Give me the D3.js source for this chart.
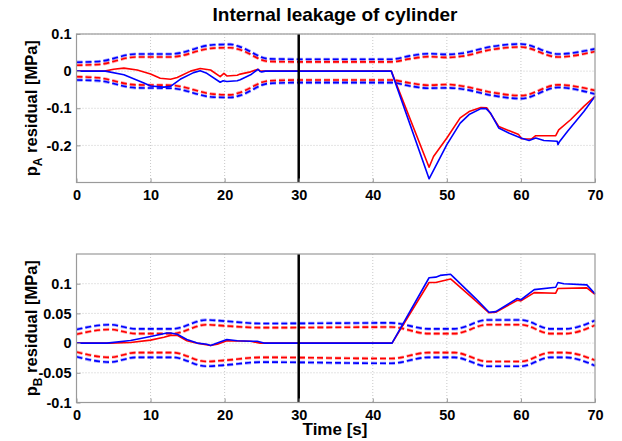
<!DOCTYPE html>
<html>
<head>
<meta charset="utf-8">
<script src="https://cdn.jsdelivr.net/npm/d3@7"></script>
<style>
  html, body { margin: 0; padding: 0; background: #fff; }
  svg { display: block; font-family: "Liberation Sans", Arial, sans-serif; }
</style>
</head>
<body>
<div id="chart"></div>
<script>
// Internal leakage of cylinder - residus pA / pB avec seuils

const titleText = 'Internal leakage of cylinder';
const timeTicks = [0, 10, 20, 30, 40, 50, 60, 70];
const faultTime = 30;

// --- panneau A ---
const yTicksA = [0.1, 0, -0.1, -0.2];
const bandTimeA = [0, 3, 8, 12.7, 18.5, 20.8, 22, 26, 30, 42.5, 45, 47.5, 50, 52, 56, 60, 65, 70];
const upperBlueA = [0.024, 0.026, 0.046, 0.046, 0.071, 0.072, 0.066, 0.033, 0.032, 0.032, 0.041, 0.047, 0.045, 0.048, 0.066, 0.073, 0.046, 0.060];
const upperRedA = [0.016, 0.018, 0.038, 0.038, 0.062, 0.063, 0.058, 0.026, 0.025, 0.025, 0.033, 0.039, 0.037, 0.040, 0.058, 0.065, 0.038, 0.053];
const lowerRedA = [-0.015, -0.018, -0.037, -0.038, -0.062, -0.064, -0.058, -0.026, -0.024, -0.024, -0.032, -0.038, -0.036, -0.040, -0.057, -0.066, -0.037, -0.052];
const lowerBlueA = [-0.024, -0.026, -0.045, -0.046, -0.070, -0.071, -0.066, -0.033, -0.031, -0.031, -0.040, -0.046, -0.045, -0.048, -0.065, -0.074, -0.044, -0.062];

const resTimeRedA = [0, 3.8, 5, 6.4, 8.2, 10, 11.3, 12.7, 13.6, 15.4, 16.7, 18.1, 19.4, 19.9, 20.3, 21.7, 22.1, 23.5, 24.5, 24.8, 42.5, 47.6, 48.2, 50, 51.8, 53, 54.6, 55.4, 57, 58.6, 59.7, 60.1, 61.4, 62, 64.7, 65.1, 66.7, 68.5, 70];
const resRedA = [0, 0, 0.005, 0.008, 0.003, -0.008, -0.019, -0.022, -0.017, 0, 0.007, 0.003, -0.015, -0.006, -0.013, -0.011, -0.008, -0.002, 0.005, 0, 0, -0.259, -0.23, -0.18, -0.126, -0.109, -0.098, -0.099, -0.149, -0.162, -0.171, -0.182, -0.183, -0.174, -0.174, -0.158, -0.131, -0.095, -0.068];
const resTimeBlueA = [0, 3.9, 6.4, 9.1, 10, 11.8, 12.7, 14, 15.8, 16.7, 17.6, 19.4, 19.8, 20.3, 21.7, 22.1, 23.5, 24.5, 24.8, 25, 25.5, 42.5, 47.6, 50, 51.8, 53, 54.6, 55.3, 55.9, 57, 58.6, 60, 61.1, 62, 63.1, 64.9, 65, 65.2, 66.3, 68.5, 70];
const resBlueA = [0, 0, -0.01, -0.032, -0.04, -0.043, -0.041, -0.022, -0.004, 0.001, -0.006, -0.03, -0.026, -0.028, -0.026, -0.023, -0.01, 0.005, -0.001, -0.002, 0, 0, -0.29, -0.198, -0.14, -0.117, -0.101, -0.101, -0.113, -0.153, -0.169, -0.18, -0.187, -0.18, -0.187, -0.189, -0.198, -0.19, -0.162, -0.109, -0.068];

// --- panneau B ---
const yTicksB = [0.1, 0.05, 0, -0.05, -0.1];
const bandTimeB = [0, 4.5, 8, 13, 17.5, 20, 25, 42.5, 47.5, 51, 55.5, 60, 64, 66, 70];
const upperBlueB = [0.023, 0.031, 0.024, 0.024, 0.039, 0.037, 0.033, 0.034, 0.024, 0.024, 0.039, 0.039, 0.024, 0.024, 0.038];
const upperRedB = [0.015, 0.023, 0.016, 0.016, 0.031, 0.029, 0.026, 0.027, 0.016, 0.016, 0.031, 0.031, 0.016, 0.016, 0.030];
const lowerRedB = [-0.015, -0.024, -0.016, -0.016, -0.031, -0.029, -0.024, -0.026, -0.016, -0.016, -0.031, -0.031, -0.016, -0.016, -0.029];
const lowerBlueB = [-0.023, -0.032, -0.024, -0.024, -0.039, -0.037, -0.032, -0.034, -0.024, -0.024, -0.039, -0.039, -0.024, -0.024, -0.038];

const resTimeRedB = [0, 4.5, 7.3, 10, 11.8, 12.7, 13.6, 14.9, 16.3, 18.1, 19, 20.3, 23.5, 24.8, 42.6, 47.6, 48.5, 50.5, 50.9, 53.9, 55.7, 56.6, 59.5, 60, 61.8, 64.7, 65, 68.9, 70];
const resRedB = [0, 0, 0.001, 0.005, 0.010, 0.013, 0.013, 0.004, 0, -0.004, -0.002, 0.004, 0.003, 0, 0, 0.102, 0.102, 0.108, 0.104, 0.071, 0.051, 0.052, 0.072, 0.071, 0.085, 0.084, 0.092, 0.093, 0.082];
const resTimeBlueB = [0, 4.1, 7.3, 10, 12.2, 12.7, 13.6, 14.9, 16.3, 17.6, 18.1, 19, 20.3, 21.7, 23.5, 24.4, 25.3, 42.6, 47.6, 48.5, 49.1, 50.5, 50.9, 53.9, 55.7, 56.6, 59.5, 60, 61.8, 64.7, 65, 65.8, 68.9, 70];
const resBlueB = [0, 0, 0.0045, 0.011, 0.017, 0.017, 0.015, 0.006, 0, -0.002, -0.004, 0, 0.006, 0.004, 0.003, 0.003, 0, 0, 0.110, 0.111, 0.114, 0.116, 0.111, 0.075, 0.052, 0.053, 0.075, 0.073, 0.090, 0.094, 0.102, 0.100, 0.098, 0.083];

const RED = '#ff0000';
const BLUE = '#0000ff';

const W = 622, H = 441;
const svg = d3.select('#chart').append('svg')
    .attr('width', W)
    .attr('height', H);

const x = d3.scaleLinear().domain([0, 70]).range([76.5, 595]);

// Titre
svg.append('text')
    .attr('x', 335)
    .attr('y', 21)
    .attr('text-anchor', 'middle')
    .style('font-size', '19px')
    .style('font-weight', '700')
    .text(titleText);

function zip(ts, vs) {
    return ts.map((t, i) => [t, vs[i]]);
}

function drawPanel(opts) {
    const y = d3.scaleLinear().domain(opts.domain).range([opts.bottom, opts.top]);
    const g = svg.append('g');

    // grille
    g.append('g').selectAll('line.vx')
        .data(timeTicks.slice(1, -1))
        .join('line')
        .attr('x1', d => x(d)).attr('x2', d => x(d))
        .attr('y1', opts.top).attr('y2', opts.bottom)
        .attr('stroke', '#c8c8c8').attr('stroke-width', 1)
        .attr('stroke-dasharray', '1,2');
    g.append('g').selectAll('line.hy')
        .data(opts.yTicks)
        .join('line')
        .attr('x1', x(0)).attr('x2', x(70))
        .attr('y1', d => y(d)).attr('y2', d => y(d))
        .attr('stroke', '#c8c8c8').attr('stroke-width', 1)
        .attr('stroke-dasharray', '1,2');

    // seuils (pointillés)
    const band = d3.line().x(d => x(d[0])).y(d => y(d[1])).curve(d3.curveMonotoneX);
    const bands = [
        [opts.upperRed, RED], [opts.lowerRed, RED],
        [opts.upperBlue, BLUE], [opts.lowerBlue, BLUE]
    ];
    bands.forEach(([vals, col]) => {
        g.append('path')
            .datum(zip(opts.bandTime, vals))
            .attr('fill', 'none')
            .attr('stroke', col)
            .attr('stroke-opacity', 0.35)
            .attr('stroke-width', 3.2)
            .attr('stroke-dasharray', '6,3')
            .attr('d', band);
        g.append('path')
            .datum(zip(opts.bandTime, vals))
            .attr('fill', 'none')
            .attr('stroke', col)
            .attr('stroke-width', 1.6)
            .attr('stroke-dasharray', '6,3')
            .attr('d', band);
    });

    // residus
    const line = d3.line().x(d => x(d[0])).y(d => y(d[1]));
    g.append('path')
        .datum(zip(opts.resTimeRed, opts.resRed))
        .attr('fill', 'none').attr('stroke', RED).attr('stroke-width', 1.6)
        .attr('stroke-linejoin', 'round')
        .attr('d', line);
    g.append('path')
        .datum(zip(opts.resTimeBlue, opts.resBlue))
        .attr('fill', 'none').attr('stroke', BLUE).attr('stroke-width', 1.6)
        .attr('stroke-linejoin', 'round')
        .attr('d', line);

    // ligne verticale du défaut
    g.append('line')
        .attr('x1', x(faultTime)).attr('x2', x(faultTime))
        .attr('y1', opts.top).attr('y2', opts.bottom)
        .attr('stroke', '#000').attr('stroke-width', 2.5);

    // cadre
    g.append('rect')
        .attr('x', x(0)).attr('y', opts.top)
        .attr('width', x(70) - x(0)).attr('height', opts.bottom - opts.top)
        .attr('fill', 'none').attr('stroke', '#9a9a9a').attr('stroke-width', 1.2);

    // axes
    const xAxis = g.append('g')
        .attr('transform', `translate(0,${opts.bottom})`)
        .call(d3.axisBottom(x).tickValues(timeTicks).tickSizeInner(-4).tickSizeOuter(0).tickPadding(7).tickFormat(d3.format('d')));
    const yAxis = g.append('g')
        .attr('transform', `translate(${x(0)},0)`)
        .call(d3.axisLeft(y).tickValues(opts.yTicks).tickSizeInner(-4).tickSizeOuter(0).tickPadding(5).tickFormat(d => String(+d.toFixed(2))));
    [xAxis, yAxis].forEach(a => {
        a.select('.domain').remove();
        a.selectAll('.tick line').attr('stroke', '#9a9a9a');
        a.selectAll('.tick text')
            .attr('fill', '#000')
            .style('font-size', '14.5px')
            .style('font-weight', '700')
            .style('font-family', '"Liberation Sans", Arial, sans-serif');
    });

    // libellé Y avec indice
    const lab = svg.append('text')
        .attr('transform', `translate(37,${(opts.top + opts.bottom) / 2}) rotate(-90)`)
        .attr('text-anchor', 'middle')
        .style('font-size', '16.5px')
        .style('font-weight', '700');
    lab.append('tspan').text('p');
    lab.append('tspan').attr('dy', 5).style('font-size', '12px').text(opts.sub);
    lab.append('tspan').attr('dy', -5).text(' residual [MPa]');
}

drawPanel({
    top: 34, bottom: 182.5, domain: [-0.3, 0.1], yTicks: yTicksA, sub: 'A',
    bandTime: bandTimeA, upperBlue: upperBlueA, upperRed: upperRedA, lowerRed: lowerRedA, lowerBlue: lowerBlueA,
    resTimeRed: resTimeRedA, resRed: resRedA, resTimeBlue: resTimeBlueA, resBlue: resBlueA
});

drawPanel({
    top: 254, bottom: 402.5, domain: [-0.1, 0.15], yTicks: yTicksB, sub: 'B',
    bandTime: bandTimeB, upperBlue: upperBlueB, upperRed: upperRedB, lowerRed: lowerRedB, lowerBlue: lowerBlueB,
    resTimeRed: resTimeRedB, resRed: resRedB, resTimeBlue: resTimeBlueB, resBlue: resBlueB
});

// libellé X
svg.append('text')
    .attr('x', 335)
    .attr('y', 435)
    .attr('text-anchor', 'middle')
    .style('font-size', '17px')
    .style('font-weight', '700')
    .text('Time [s]');
</script>
</body>
</html>
